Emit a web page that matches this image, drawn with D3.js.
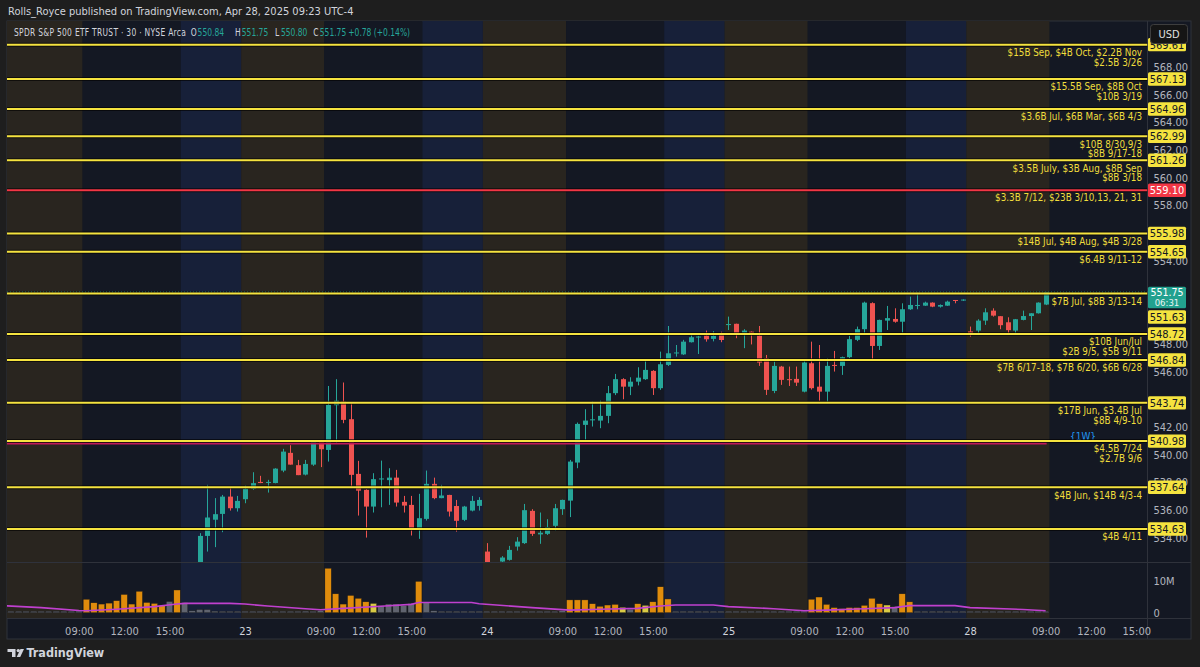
<!DOCTYPE html>
<html><head><meta charset="utf-8">
<script src="https://cdn.jsdelivr.net/npm/d3@7"></script>
<style>
html,body{margin:0;padding:0;background:#1e1e1e;}
svg{display:block;}
text{font-family:'Liberation Sans Narrow','DejaVu Sans Condensed','Roboto Condensed','Liberation Sans',sans-serif;}
</style></head><body>
<svg id="c" width="1200" height="667"></svg>
<script>
// ---------------- DATA (30-minute bars, index 0 = Apr 22 04:00 ET) ----------------
const barOpen = [
518.9,519.3,519.5,519.9,519.7,520.2,520.6,520.4,520.0,520.5,521.0,
520.8,521.9,523.2,523.8,524.3,525.0,526.2,526.0,527.4,527.9,527.6,527.9,528.4,
527.3,529.0,530.9,534.13,535.3,535.72,536.97,536.13,
536.78,537.53,538.03,537.97,537.95,538.85,540.13,539.24,538.56,539.28,540.99,
540.34,543.57,543.83,542.56,538.61,537.46,536.25,538.22,538.16,538.34,536.59,536.37,534.64,
535.36,537.89,536.86,537.09,536.29,535.29,535.96,536.30,
533.00,531.60,532.28,532.40,533.36,533.61,535.94,534.24,534.28,534.86,536.06,
536.68,539.43,542.15,542.50,542.46,542.80,544.44,545.45,544.91,545.27,545.45,546.05,544.80,
546.48,547.32,547.24,548.12,548.48,548.60,548.36,548.77,
549.39,549.45,548.80,548.88,548.60,546.96,544.60,546.36,545.45,545.47,544.55,
546.60,544.91,544.55,546.48,546.41,547.04,548.29,549.06,550.94,547.85,549.68,549.80,549.60,
550.50,550.78,550.76,550.98,550.69,550.76,551.17,551.15,
548.90,548.96,549.68,550.40,550.00,549.56,548.96,549.73,550.01,550.21,550.84];
const barHigh = [
519.6,519.8,520.1,520.3,520.4,520.9,521.0,520.8,520.7,521.2,521.5,
522.4,523.5,524.1,524.6,525.4,526.6,526.9,527.8,528.3,528.6,528.2,528.9,529.3,
529.4,531.2,534.33,537.82,536.86,537.09,537.65,537.02,
537.77,538.73,538.47,538.18,539.02,540.42,540.68,539.62,539.62,541.00,541.02,
544.96,545.45,545.21,543.71,539.55,537.50,538.66,539.57,539.02,538.90,537.02,537.02,537.17,
538.85,538.34,537.82,537.10,536.73,536.30,537.02,536.93,
533.61,532.10,532.67,533.41,534.04,536.44,536.06,535.82,535.34,536.44,536.75,
539.62,542.32,543.28,543.83,543.90,544.96,545.83,545.52,545.59,546.31,546.77,546.10,547.44,
549.29,547.92,548.29,548.65,548.58,548.96,548.92,548.88,
549.97,549.46,549.06,548.90,549.29,547.20,546.72,546.41,546.36,546.36,546.84,
548.16,547.92,546.96,547.49,547.08,548.58,549.25,551.05,551.00,549.75,550.74,550.57,550.93,
551.41,551.70,551.05,551.00,550.85,551.12,551.17,551.22,
549.25,549.78,550.57,550.57,550.00,549.92,549.80,550.40,550.22,551.00,551.75];
const barLow = [
518.5,519.0,519.2,519.5,519.4,519.9,520.1,519.8,519.7,520.2,520.3,
519.4,521.5,522.7,523.0,523.9,524.8,525.5,525.6,526.9,527.2,527.1,527.4,527.0,
527.0,528.8,530.6,533.00,533.32,534.40,535.96,535.89,
536.49,537.46,537.94,537.26,537.93,538.73,539.28,538.52,538.50,539.19,539.10,
539.50,540.78,542.27,537.69,535.60,534.01,535.82,536.20,536.37,536.25,535.82,534.16,533.92,
535.24,536.78,536.85,535.53,534.44,535.20,535.90,535.96,
531.20,531.00,531.80,532.35,533.07,533.55,534.13,533.56,534.20,534.52,535.65,
535.49,539.02,541.07,542.03,541.91,542.27,544.30,544.00,544.30,545.00,545.40,544.31,544.68,
546.40,547.08,547.20,548.10,547.27,548.16,548.18,548.12,
549.00,548.41,547.69,547.96,546.41,544.31,544.44,545.04,544.96,544.96,544.50,
544.70,543.90,543.83,546.00,545.76,546.96,548.20,548.77,546.89,547.56,549.00,549.53,548.81,
550.45,550.50,550.74,550.65,550.62,550.74,550.93,551.10,
548.52,548.77,549.37,549.97,549.06,548.72,548.77,549.70,549.00,550.19,550.80];
const barClose = [
519.3,519.5,519.9,519.7,520.2,520.6,520.4,520.0,520.5,521.0,520.8,
521.9,523.2,523.8,524.3,525.0,526.2,526.0,527.4,527.9,527.6,527.9,528.4,527.3,
529.0,530.9,534.13,535.46,535.70,536.97,536.13,536.66,
537.53,537.94,537.95,538.03,538.99,540.22,539.28,538.52,539.33,540.99,540.39,
543.59,543.90,542.51,538.54,537.40,536.25,538.23,538.28,538.34,536.54,536.32,534.64,535.41,
537.89,536.86,537.05,535.89,535.22,536.25,536.66,536.73,
531.60,531.90,532.57,533.12,533.72,535.99,534.28,534.36,534.76,536.13,536.73,
539.50,542.22,542.46,542.55,542.80,544.44,545.45,544.91,545.27,545.56,546.12,544.80,546.53,
547.32,547.38,548.16,548.48,548.53,548.33,548.58,548.28,
549.43,548.77,548.96,548.77,546.65,544.68,546.41,545.40,545.40,545.20,546.65,
544.80,544.55,546.41,546.41,547.04,548.34,549.06,550.98,547.85,549.73,549.86,549.60,550.50,
550.81,550.81,550.98,550.69,550.81,551.05,551.12,551.20,
548.77,549.68,550.28,550.04,549.35,548.99,549.78,550.01,550.21,550.98,551.75];
// volume in millions of shares
const volumeM = [
0.25,0.2,0.2,0.2,0.2,0.2,0.25,0.2,0.25,0.3,0.5,
4.2,3.1,2.7,3.0,3.75,5.7,2.7,6.7,3.2,2.9,2.2,3.5,7.1,
3.2,0.6,1.0,1.0,0.5,0.3,0.25,0.25,
0.25,0.2,0.2,0.2,0.25,0.2,0.2,0.4,0.5,0.4,0.6,
13.9,5.9,2.7,5.4,4.5,3.4,2.9,2.2,2.7,2.7,2.2,2.9,9.8,
3.1,0.6,0.3,0.25,0.2,0.3,0.25,0.2,
0.25,0.2,0.2,0.25,0.2,0.2,0.25,0.2,0.3,0.3,0.6,
4.0,4.0,4.0,2.8,2.0,2.4,2.6,1.7,1.1,2.8,2.3,3.4,8.1,
4.3,0.3,0.25,0.3,0.25,0.2,0.25,0.2,
0.25,0.2,0.25,0.2,0.3,0.35,0.3,0.4,0.3,0.35,0.4,
4.2,4.9,2.6,1.6,1.25,1.6,1.6,2.3,4.5,2.8,2.4,1.9,5.9,
3.4,0.3,0.25,0.2,0.25,0.2,0.2,0.25,
0.2,0.25,0.3,0.25,0.2,0.25,0.2,0.25,0.3,0.4,0.35];
// o = orange, y = yellow, g = grey
const volumeColor = (
"ggggggggggg" + "ooooooooooogo" + "gggggggg" +
"ggggggggggg" + "oooooo" + "ygggggo" + "gggggggg" +
"ggggggggggg" + "oooooooyg" + "oyoo" + "oggggggg" +
"ggggggggggg" + "oooooooooo" + "ygo" + "oggggggg" +
"ggggggggggg").split("");
// volume moving average: [bar index, millions]
const maPoints = [[0,2.2],[5,1.6],[10,0.7],[11,0.6],[15,1.1],[20,1.9],[23,2.7],[24,2.9],[30,2.9],[32,2.7],[35,2.1],[40,1.25],[42,0.9],[45,1.35],[50,2.0],[54,2.6],[55,3.2],[62,3.2],[63,2.8],[70,1.6],[75,0.8],[79,1.1],[84,1.35],[87,2.1],[89,2.4],[94,2.4],[96,1.9],[102,1.25],[106,0.6],[109,0.8],[114,1.25],[118,1.6],[120,2.2],[126,2.2],[128,1.6],[135,1.0],[138,0.6]];
// sessions: [first bar, last bar, kind]
const sessions = [[0,10,"pre"],[11,23,"reg"],[24,31,"post"],[32,42,"pre"],[43,55,"reg"],[56,63,"post"],[64,74,"pre"],[75,87,"reg"],[88,95,"post"],[96,106,"pre"],[107,119,"reg"],[120,127,"post"],[128,138,"pre"]];
// horizontal levels and their notes
const levelPrices = [569.61,567.13,564.96,562.99,561.26,559.10,555.98,554.65,551.63,548.72,546.84,543.74,540.98,537.64,534.63];
const levelNotes = [
["$15B Sep, $4B Oct, $2.2B Nov","$2.5B 3/26"],
["$15.5B Sep, $8B Oct","$10B 3/19"],
["$3.6B Jul, $6B Mar, $6B 4/3"],
["$10B 8/30,9/3","$8B 9/17-18"],
["$3.5B July, $3B Aug, $8B Sep","$8B 3/18"],
["$3.3B 7/12, $23B 3/10,13, 21, 31"],
["$14B Jul, $4B Aug, $4B 3/28"],
["$6.4B 9/11-12"],
["$7B Jul, $8B 3/13-14"],
["$10B Jun/Jul","$2B 9/5, $5B 9/11"],
["$7B 6/17-18, $7B 6/20, $6B 6/28"],
["$17B Jun, $3.4B Jul","$8B 4/9-10"],
["$4.5B 7/24","$2.7B 9/6"],
["$4B Jun, $14B 4/3-4"],
["$4B 4/11"]];
const redLevel = 559.10;
const weeklyLevel = 540.80;
const weeklyLabel = "{1W}";
const lastPrice = 551.75;
const countdown = "06:31";
const priceTicks = [534,536,538,540,542,546,548,554,558,560,562,564,566,568];
const volTicks = [[0,"0"],[10,"10M"]];
const timeTickIdx = [10,16,22,32,42,48,54,64,74,80,86,96,106,112,118,128,138,144,150];
const timeTickText = ["09:00","12:00","15:00","23","09:00","12:00","15:00","24","09:00","12:00","15:00","25","09:00","12:00","15:00","28","09:00","12:00","15:00"];
const legendTitle = "SPDR S&P 500 ETF TRUST · 30 · NYSE Arca";
const ohlc = [["O","550.84"],["H","551.75"],["L","550.80"],["C","551.75"]];
const change = "+0.78 (+0.14%)";
const headerText = "Rolls_Royce published on TradingView.com, Apr 28, 2025 09:23 UTC-4";

// ---------------- LAYOUT ----------------
const L = 7, R = 1191, T = 21, B = 639, AX = 1147.5, PB = 562, VB = 618;
const svg = d3.select("#c");
const x = d3.scaleLinear().domain([0,128]).range([3.3,970.1]);
const y = d3.scaleLinear().domain([534.63,567.13]).range([529,79]);
const yv = d3.scaleLinear().domain([0,10]).range([612.7,580.7]);
const UP = "#26a69a", DN = "#ef5350", YEL = "#f5e33f", TXTY = "#f0dd3c";
const sessColor = {pre:"#29251f", reg:"#141823", post:"#172039"};
const volCol = {o:"#e08c0c", y:"#d9cb45", g:"#60646f"};

svg.append("rect").attr("width",1200).attr("height",667).attr("fill","#1e1e1e");
svg.append("rect").attr("x",L).attr("y",T).attr("width",R-L).attr("height",B-T).attr("fill","#141823").attr("stroke","#2f323b");

const defs = svg.append("defs");
defs.append("clipPath").attr("id","cp").append("rect").attr("x",L).attr("y",T).attr("width",AX-L).attr("height",PB-T);
defs.append("clipPath").attr("id","cv").append("rect").attr("x",L).attr("y",PB).attr("width",AX-L).attr("height",VB-PB);

// session bands (price + volume panes)
const bandG = svg.append("g");
[[T,PB,"cp"],[PB,VB,"cv"]].forEach(([t,b,c])=>{
  bandG.append("g").attr("clip-path",`url(#${c})`).selectAll("rect").data(sessions).join("rect")
    .attr("x",d=>x(d[0]-0.5)).attr("width",d=>x(d[1]+0.5)-x(d[0]-0.5))
    .attr("y",t).attr("height",b-t).attr("fill",d=>sessColor[d[2]]);
});

// pane separators
svg.append("line").attr("x1",L).attr("x2",R).attr("y1",PB+0.5).attr("y2",PB+0.5).attr("stroke","#2f323b");
svg.append("line").attr("x1",L).attr("x2",R).attr("y1",VB+0.5).attr("y2",VB+0.5).attr("stroke","#2f323b");
svg.append("line").attr("x1",AX).attr("x2",AX).attr("y1",T).attr("y2",B).attr("stroke","#2f323b");

// candles
const bars = barOpen.map((o,i)=>({i,o,h:barHigh[i],l:barLow[i],c:barClose[i]}));
const cg = svg.append("g").attr("clip-path","url(#cp)");
const cs = cg.selectAll("g").data(bars).join("g");
cs.append("line").attr("x1",d=>Math.round(x(d.i))+0.5).attr("x2",d=>Math.round(x(d.i))+0.5)
  .attr("y1",d=>y(d.h)).attr("y2",d=>y(d.l)).attr("stroke",d=>d.c>=d.o?UP:DN).attr("stroke-width",1);
cs.append("rect").attr("x",d=>Math.round(x(d.i))-2).attr("width",5)
  .attr("y",d=>y(Math.max(d.o,d.c))).attr("height",d=>Math.max(1,Math.abs(y(d.o)-y(d.c))))
  .attr("fill",d=>d.c>=d.o?UP:DN);

// volume
const vg = svg.append("g").attr("clip-path","url(#cv)");
vg.selectAll("rect").data(volumeM).join("rect")
  .attr("x",(d,i)=>x(i)-3.2).attr("width",6.4)
  .attr("y",d=>Math.min(yv(d),yv(0)-1.5)).attr("height",d=>Math.max(1.5,yv(0)-yv(d)))
  .attr("fill",(d,i)=>volCol[volumeColor[i]]).attr("stroke","#1a1a1a").attr("stroke-width",0.4);
vg.append("path").datum(maPoints)
  .attr("d",d3.line().x(d=>x(d[0])).y(d=>yv(d[1])))
  .attr("fill","none").attr("stroke","#c040cf").attr("stroke-width",1.6);

// weekly (pink) line
svg.append("line").attr("x1",L).attr("x2",x(138)+1).attr("y1",y(weeklyLevel)).attr("y2",y(weeklyLevel))
  .attr("stroke","#c2185b").attr("stroke-width",2);
svg.append("text").attr("x",1083).attr("y",y(weeklyLevel)-3.5).attr("text-anchor","middle")
  .attr("font-size",10).attr("fill","#2196f3").text(weeklyLabel);

// current price dotted line
svg.append("line").attr("x1",L).attr("x2",AX).attr("y1",y(lastPrice)).attr("y2",y(lastPrice))
  .attr("stroke",UP).attr("stroke-width",1).attr("stroke-dasharray","1,2");

// horizontal levels
const lg = svg.append("g").attr("clip-path","url(#cp)");
levelPrices.forEach((p,k)=>{
  const col = p===redLevel?"#f23645":YEL;
  lg.append("line").attr("x1",L).attr("x2",AX).attr("y1",y(p)).attr("y2",y(p))
    .attr("stroke","#000").attr("stroke-opacity",0.6).attr("stroke-width",4);
  lg.append("line").attr("x1",L).attr("x2",AX).attr("y1",y(p)).attr("y2",y(p))
    .attr("stroke",col).attr("stroke-width",2);
  levelNotes[k].forEach((t,j)=>{
    lg.append("text").attr("x",1142).attr("y",y(p)+11.3+j*9.6).attr("text-anchor","end")
      .attr("font-size",9.8).attr("fill",TXTY).text(t);
  });
});

// price axis
const pa = svg.append("g").attr("transform",`translate(${AX},0)`)
  .call(d3.axisRight(y).tickValues(priceTicks).tickFormat(d3.format(".2f")).tickSize(0).tickPadding(6));
pa.select(".domain").remove();
pa.selectAll("text").attr("fill","#b2b5be").attr("font-size",11).attr("font-family",null);
const va = svg.append("g").attr("transform",`translate(${AX},0)`)
  .call(d3.axisRight(yv).tickValues(volTicks.map(d=>d[0])).tickFormat((d,i)=>volTicks[i][1]).tickSize(0).tickPadding(6));
va.select(".domain").remove();
va.selectAll("text").attr("fill","#b2b5be").attr("font-size",11).attr("font-family",null);

// price label boxes
function box(p, cy, fill, tc){
  svg.append("rect").attr("x",1148).attr("y",cy-6.7).attr("width",38).attr("height",13.4).attr("rx",1.5).attr("fill",fill);
  svg.append("text").attr("x",1167).attr("y",cy+4).attr("text-anchor","middle").attr("font-size",11)
    .attr("fill",tc).text(d3.format(".2f")(p));
}
levelPrices.forEach(p=>{
  if(p===551.63) return;
  if(p===redLevel) box(p,y(p),"#f23645","#ffffff");
  else box(p,y(p),YEL,"#131722");
});
// current price label with countdown, and the level pushed below it
svg.append("rect").attr("x",1148).attr("y",286.7).attr("width",38).attr("height",21.6).attr("rx",1.5).attr("fill","#22a18f");
svg.append("text").attr("x",1167).attr("y",296).attr("text-anchor","middle").attr("font-size",10.5).attr("fill","#fff").text(d3.format(".2f")(lastPrice));
svg.append("text").attr("x",1167).attr("y",306).attr("text-anchor","middle").attr("font-size",9.5).attr("fill","#e8f5f2").text(countdown);
box(551.63,317,YEL,"#131722");

// USD button
svg.append("rect").attr("x",1150.5).attr("y",24.5).attr("width",37).attr("height",19).attr("rx",3).attr("fill","#151515").attr("stroke","#3e3e3e");
svg.append("text").attr("x",1169).attr("y",38).attr("text-anchor","middle").attr("font-size",11).attr("fill","#e0e0e0").text("USD");

// time axis
const ta = svg.append("g").attr("transform",`translate(0,${VB})`)
  .call(d3.axisBottom(x).tickValues(timeTickIdx).tickFormat((d,i)=>timeTickText[i]).tickSize(0).tickPadding(9));
ta.select(".domain").remove();
ta.selectAll("text").attr("font-size",11).attr("font-family",null)
  .attr("fill",(d,i)=>timeTickText[i].includes(":")?"#b2b5be":"#d1d4dc");

// legend: one text element, horizontally condensed, pieces at the reference's x positions
const SX = 0.8;
const lgd = svg.append("text").attr("transform",`translate(0,36) scale(${SX},1)`).attr("font-size",10.5);
lgd.append("tspan").attr("x",14/SX).attr("y",0).attr("letter-spacing",0.35).attr("fill","#d1d4dc").text(legendTitle);
const letterX = [190.7,235,275,313.3], valueX = [197.6,241.8,281,319.8];
ohlc.forEach((d,i)=>{
  lgd.append("tspan").attr("x",letterX[i]/SX).attr("y",0).attr("fill","#d1d4dc").text(d[0]);
  lgd.append("tspan").attr("x",valueX[i]/SX).attr("y",0).attr("fill",UP).text(d[1]);
});
lgd.append("tspan").attr("x",348.3/SX).attr("y",0).attr("fill",UP).text(change);

// header & footer
svg.append("text").attr("x",8).attr("y",15).attr("font-size",11).attr("fill","#d1d4dc").text(headerText);
const logo = svg.append("g").attr("fill","#d1d4dc");
logo.append("path").attr("d","M7.5,649 h8 v8 h-3.5 v-5 h-4.5 z");
logo.append("circle").attr("cx",18.3).attr("cy",650.6).attr("r",1.7);
logo.append("path").attr("d","M20.5,649 h3.5 l-3.8,8 h-3.5 z");
svg.append("text").attr("x",26.5).attr("y",657).attr("font-size",12.5).attr("font-weight","bold").attr("fill","#d1d4dc").text("TradingView");
</script></body></html>
